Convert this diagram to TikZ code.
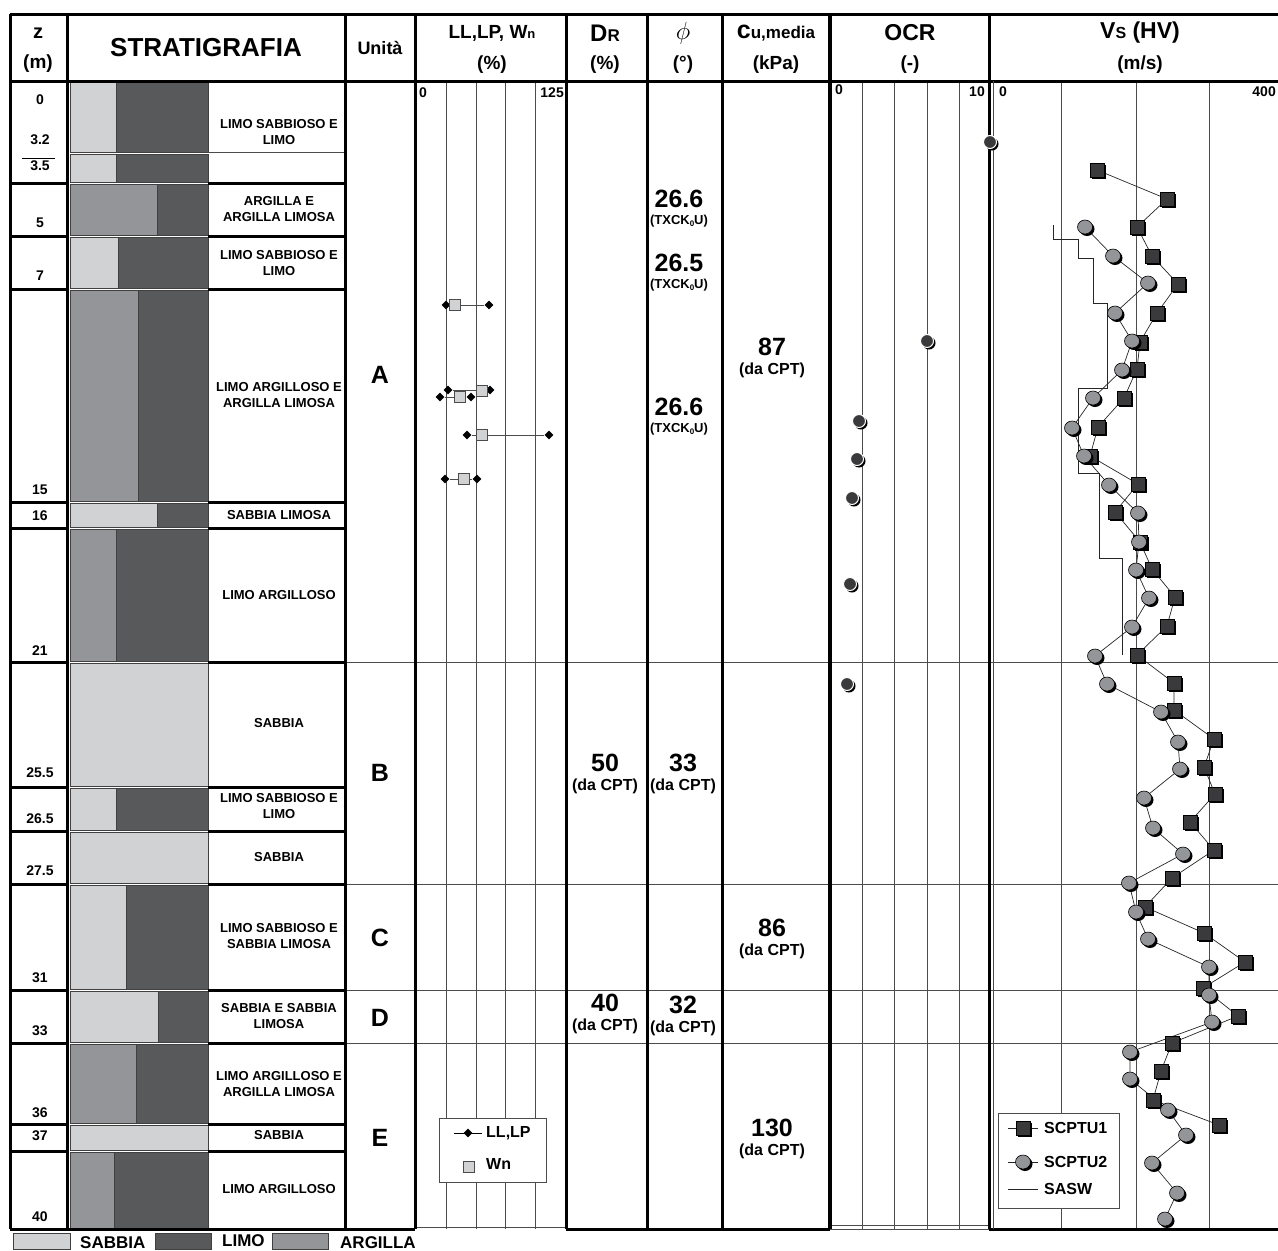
\documentclass[tikz,border=0pt]{standalone}
\usepackage{fontspec}
\setmainfont{Liberation Sans}
\usetikzlibrary{shapes.geometric,shadows}
\definecolor{sabbiac}{HTML}{D1D2D4}
\definecolor{limoc}{HTML}{58595B}
\definecolor{argillac}{HTML}{939598}
\definecolor{markc}{HTML}{3A3A3C}
\newcommand{\fsz}[1]{\fontsize{#1}{#1}\selectfont\bfseries}
\newcommand{\txck}{(TXCK{\fsz{8}\raisebox{-2pt}{0}}U)}
\tikzset{
  thk/.style={line width=3pt},
  grd/.style={line width=0.8pt, black!70},
  layer/.style={draw=black!75, line width=0.6pt},
  sabbia/.style={layer, fill=sabbiac},
  limo/.style={layer, fill=limoc},
  argilla/.style={layer, fill=argillac},
  hd/.style={font=\fsz{19}, inner sep=0pt},
  zlab/.style={font=\fsz{14}, inner sep=0pt},
  desc/.style={font=\fontsize{13}{16.5}\selectfont\bfseries, align=center, inner sep=0pt},
  big/.style={font=\fsz{25}, inner sep=0pt},
  src/.style={font=\fsz{16}, inner sep=0pt},
  tick/.style={font=\fsz{14}, inner sep=0pt},
  leg/.style={font=\fsz{16}, inner sep=0pt, anchor=west},
  dline/.style={line width=0.7pt, black!85},
  shd/.style={general shadow={fill=black, shadow xshift=2pt, shadow yshift=-2pt}},
  sqa/.style={rectangle, minimum size=14pt, inner sep=0pt, fill=markc, draw=black, line width=0.5pt, shd},
  cib/.style={ellipse, minimum width=15pt, minimum height=14pt, inner sep=0pt, fill=argillac, draw=black, line width=0.6pt, shd},
  ocrpt/.style={circle, minimum size=13pt, inner sep=0pt, fill=markc, draw=white, line width=1pt, shd},
  llpt/.style={diamond, minimum size=9pt, inner sep=0pt, fill=black},
  wnpt/.style={rectangle, minimum size=11pt, inner sep=0pt, fill=sabbiac, draw=black!70, line width=0.8pt}
}
\begin{document}
\begin{tikzpicture}[x=1pt,y=-1pt]
\useasboundingbox (0,0) rectangle (1278,1251);

% stratigraphy column
\foreach \ya/\yb/\xs/\st in {80/153/116/sabbia,153/183/116/sabbia,183/236/157/argilla,236/289/118/sabbia,289/502/138/argilla,502/528/157/sabbia,528/662/116/argilla,787/831/116/sabbia,884/990/126/sabbia,990/1043/158/sabbia,1043/1124/136/argilla,1151/1229/114/argilla}{
  \draw[\st] (70,\ya+1) rectangle (\xs,\yb-1);
  \draw[limo] (\xs,\ya+1) rectangle (208,\yb-1);
}
\foreach \ya/\yb in {662/787,831/884,1124/1151}
  \draw[sabbia] (70,\ya+1) rectangle (208,\yb-1);

% grids
\foreach \x in {446,476,505,535} \draw[grd] (\x,81) -- (\x,1229); % LL
\foreach \x in {862,894,927,959} \draw[grd] (\x,81) -- (\x,1229); % OCR
\foreach \x in {1061,1136,1209} \draw[grd] (\x,81) -- (\x,1229); % Vs
\foreach \y in {662,884,990,1043} \draw[grd] (345,\y) -- (1278,\y); % units
\draw[grd] (208,152) -- (345,152);
\draw[line width=1pt] (22,158) -- (55,158);

% frame
\draw[thk] (10,14) -- (1278,14);
\draw[thk] (10,81) -- (1278,81);
\draw[thk] (10,1229) -- (415,1229);
\draw[thk] (566,1229) -- (830,1229);
\draw[thk] (989,1229) -- (1278,1229);
\draw[grd] (415,1227) -- (566,1227);
\draw[grd] (830,1225) -- (989,1225) (830,1229) -- (989,1229);
\foreach \x in {10,67,345,415,566,647,722} \draw[thk] (\x,14) -- (\x,1229);
\draw[line width=4.5pt] (830,14) -- (830,1229);
\draw[thk] (989,14) -- (989,1229);
\draw[grd] (993,81) -- (993,1229);
\foreach \y in {183,236,289,502,528,662,787,831,884,990,1043,1124,1151}{
  \draw[thk] (10,\y) -- (67,\y);
  \draw[thk] (208,\y) -- (345,\y);
}

% header
\node[font=\fsz{20}, inner sep=0pt] (hz) at (38,33) {z};
\node[hd] (hzu) at (38,64) {(m)};
\node[font=\fsz{26}, inner sep=0pt] (hstrat) at (206,48) {STRATIGRAFIA};
\node[font=\fsz{18}, inner sep=0pt] (hunit) at (380,48) {Unità};
\node[hd] (hll) at (492,33) {LL,LP, W{\fsz{13}n}};
\node[hd] (hllu) at (492,65) {(\%)};
\node[font=\fsz{24}, inner sep=0pt] (hdr) at (605,33) {D{\fsz{17}R}};
\node[hd] (hdru) at (605,65) {(\%)};
\node[font=\fsz{24}, inner sep=0pt] (hphi) at (683,33) {$\phi$};
\node[hd] (hphiu) at (683,65) {(°)};
\node[font=\fsz{25}, inner sep=0pt] (hcu) at (776,33) {c{\fsz{17}u,media}};
\node[hd] (hcuu) at (776,65) {(kPa)};
\node[font=\fsz{23}, inner sep=0pt] (hocr) at (910,33) {OCR};
\node[hd] (hocru) at (910,65) {(-)};
\node[font=\fsz{23}, inner sep=0pt] (hvs) at (1140,33) {V{\fsz{16}S} (HV)};
\node[hd] (hvsu) at (1140,65) {(m/s)};

% depths
\foreach \d/\y [count=\i] in {0/100,3.2/140,3.5/166,5/223,7/276,15/490,16/516,21/651,25.5/773,26.5/819,27.5/871,31/978,33/1031,36/1113,37/1136,40/1217}
  \node[zlab] (z\i) at (40,\y) {\d};

% descriptions
\foreach \t/\y [count=\i] in {{LIMO SABBIOSO E\\LIMO}/132,{ARGILLA E\\ARGILLA LIMOSA}/209,{LIMO SABBIOSO E\\LIMO}/263,{LIMO ARGILLOSO E\\ARGILLA LIMOSA}/395,{SABBIA LIMOSA}/515,{LIMO ARGILLOSO}/595,{SABBIA}/723,{LIMO SABBIOSO E\\LIMO}/806,{SABBIA}/857,{LIMO SABBIOSO E\\SABBIA LIMOSA}/936,{SABBIA E SABBIA\\LIMOSA}/1016,{LIMO ARGILLOSO E\\ARGILLA LIMOSA}/1084,{SABBIA}/1135,{LIMO ARGILLOSO}/1189}
  \node[desc] (d\i) at (279,\y) {\t};

% units
\foreach \u/\y in {A/375,B/773,C/938,D/1018,E/1138}
  \node[font=\fsz{25}, inner sep=0pt] (unit\u) at (380,\y) {\u};

% values
\foreach \x/\y/\v [count=\i] in {679/199/26.6,679/263/26.5,679/407/26.6}{
  \node[big] (phi\i) at (\x,\y) {\v};
  \node[font=\fsz{13}, inner sep=0pt] (tx\i) at (\x,\y+22) {\txck};
}
\foreach \x/\y/\v [count=\i] in {772/347/87,605/763/50,683/763/33,772/928/86,605/1003/40,683/1005/32,772/1128/130}{
  \node[big] (val\i) at (\x,\y) {\v};
  \node[src] (cpt\i) at (\x,\y+23) {(da CPT)};
}

% axis ticks
\node[tick, anchor=west] (ll0) at (419,93) {0};
\node[tick, anchor=east] (ll125) at (564,93) {125};
\node[tick, anchor=west] (ocr0) at (835,90) {0};
\node[tick, anchor=east] (ocr10) at (985,92) {10};
\node[tick, anchor=west] (vs0) at (999,92) {0};
\node[tick, anchor=east] (vs400) at (1276,92) {400};

% LL, LP, Wn
\foreach \y/\xa/\xb/\xw/\yw [count=\i] in {305/446/489/455/305,390/448/490/482/391,397/440/471/460/397,435/467/549/482/435,479/445/477/464/479}{
  \node[llpt] (lla\i) at (\xa,\y) {};
  \node[llpt] (llb\i) at (\xb,\y) {};
  \draw[black!70, line width=0.8pt] (lla\i) -- (llb\i);
  \node[wnpt] (wn\i) at (\xw,\yw) {};
}
\draw[black!70, fill=white, line width=0.8pt] (439,1118) rectangle (546,1182);
\coordinate (lla) at (454,1133);
\coordinate (llb) at (482,1133);
\draw[black, line width=0.8pt] (lla) -- (llb);
\node[llpt] (llm) at (468,1133) {};
\node[leg] (lltxt) at (486,1133) {LL,LP};
\node[wnpt] (wnm) at (469,1167) {};
\node[leg] (wntxt) at (486,1164) {Wn};

% OCR
\foreach \x/\y [count=\i] in {990/142,927/341,859/421,857/459,852/498,850/584,847/684}
  \node[ocrpt] (ocr\i) at (\x,\y) {};

% Vs: SASW
\draw[dline] (1053,225) -- (1053,239) -- (1078,239) -- (1078,258) -- (1093,258) -- (1093,303) -- (1107,303) -- (1107,388) -- (1078,388) -- (1078,473) -- (1099,473) -- (1099,558) -- (1122,558) -- (1122,655);

% Vs: SCPTU1
\foreach \x/\y [count=\i] in {1097/170,1167/199,1137/227,1152/256,1178/284,1157/313,1140/342,1137/369,1124/398,1098/427,1090/456,1138/484,1115/512,1140/542,1152/569,1175/597,1167/626,1137/655,1174/683,1174/710,1214/739,1204/767,1215/794,1190/822,1214/850,1172/878,1145/907,1204/933,1245/962,1203/988,1238/1016,1172/1043,1161/1071,1153/1100,1219/1125}
  \coordinate (a\i) at (\x,\y);
% Vs: SCPTU2
\foreach \x/\y [count=\i] in {1085/227,1113/256,1148/283,1115/313,1132/341,1122/370,1093/398,1072/428,1084/456,1109/485,1138/513,1139/542,1136/570,1149/598,1132/627,1095/656,1107/684,1161/712,1178/742,1180/769,1144/798,1153/828,1183/854,1129/883,1136/912,1148/939,1209/967,1209/995,1212/1022,1130/1052,1130/1079,1168/1110,1186/1135,1152/1163,1177/1193,1165/1219}
  \coordinate (b\i) at (\x,\y);
\draw[dline] (a1) \foreach \i in {2,...,35}{ -- (a\i)};
\draw[dline] (b1) \foreach \i in {2,...,36}{ -- (b\i)};
\foreach \i in {1,...,35} \node[sqa] (sa\i) at (a\i) {};
\foreach \i in {1,...,36} \node[cib] (cb\i) at (b\i) {};

% Vs legend
\draw[black!70, fill=white, line width=0.8pt] (998,1113) rectangle (1119,1208);
\coordinate (u1a) at (1008,1128);
\coordinate (u1b) at (1038,1128);
\draw[dline] (u1a) -- (u1b);
\node[sqa] (u1m) at (1023,1128) {};
\node[leg] (u1txt) at (1044,1128) {SCPTU1};
\coordinate (u2a) at (1008,1162);
\coordinate (u2b) at (1038,1162);
\draw[dline] (u2a) -- (u2b);
\node[cib] (u2m) at (1023,1162) {};
\node[leg] (u2txt) at (1044,1162) {SCPTU2};
\coordinate (swa) at (1008,1189);
\coordinate (swb) at (1038,1189);
\draw[dline] (swa) -- (swb);
\node[leg] (swtxt) at (1044,1189) {SASW};

% soil legend
\draw[sabbia] (13,1233) rectangle (70,1249);
\node[font=\fsz{17}, inner sep=0pt, anchor=west] (lsab) at (80,1243) {SABBIA};
\draw[limo] (155,1233) rectangle (211,1249);
\node[font=\fsz{17}, inner sep=0pt, anchor=west] (llim) at (222,1241) {LIMO};
\draw[argilla] (272,1233) rectangle (328,1249);
\node[font=\fsz{17}, inner sep=0pt, anchor=west] (larg) at (340,1243) {ARGILLA};
\end{tikzpicture}
\end{document}
